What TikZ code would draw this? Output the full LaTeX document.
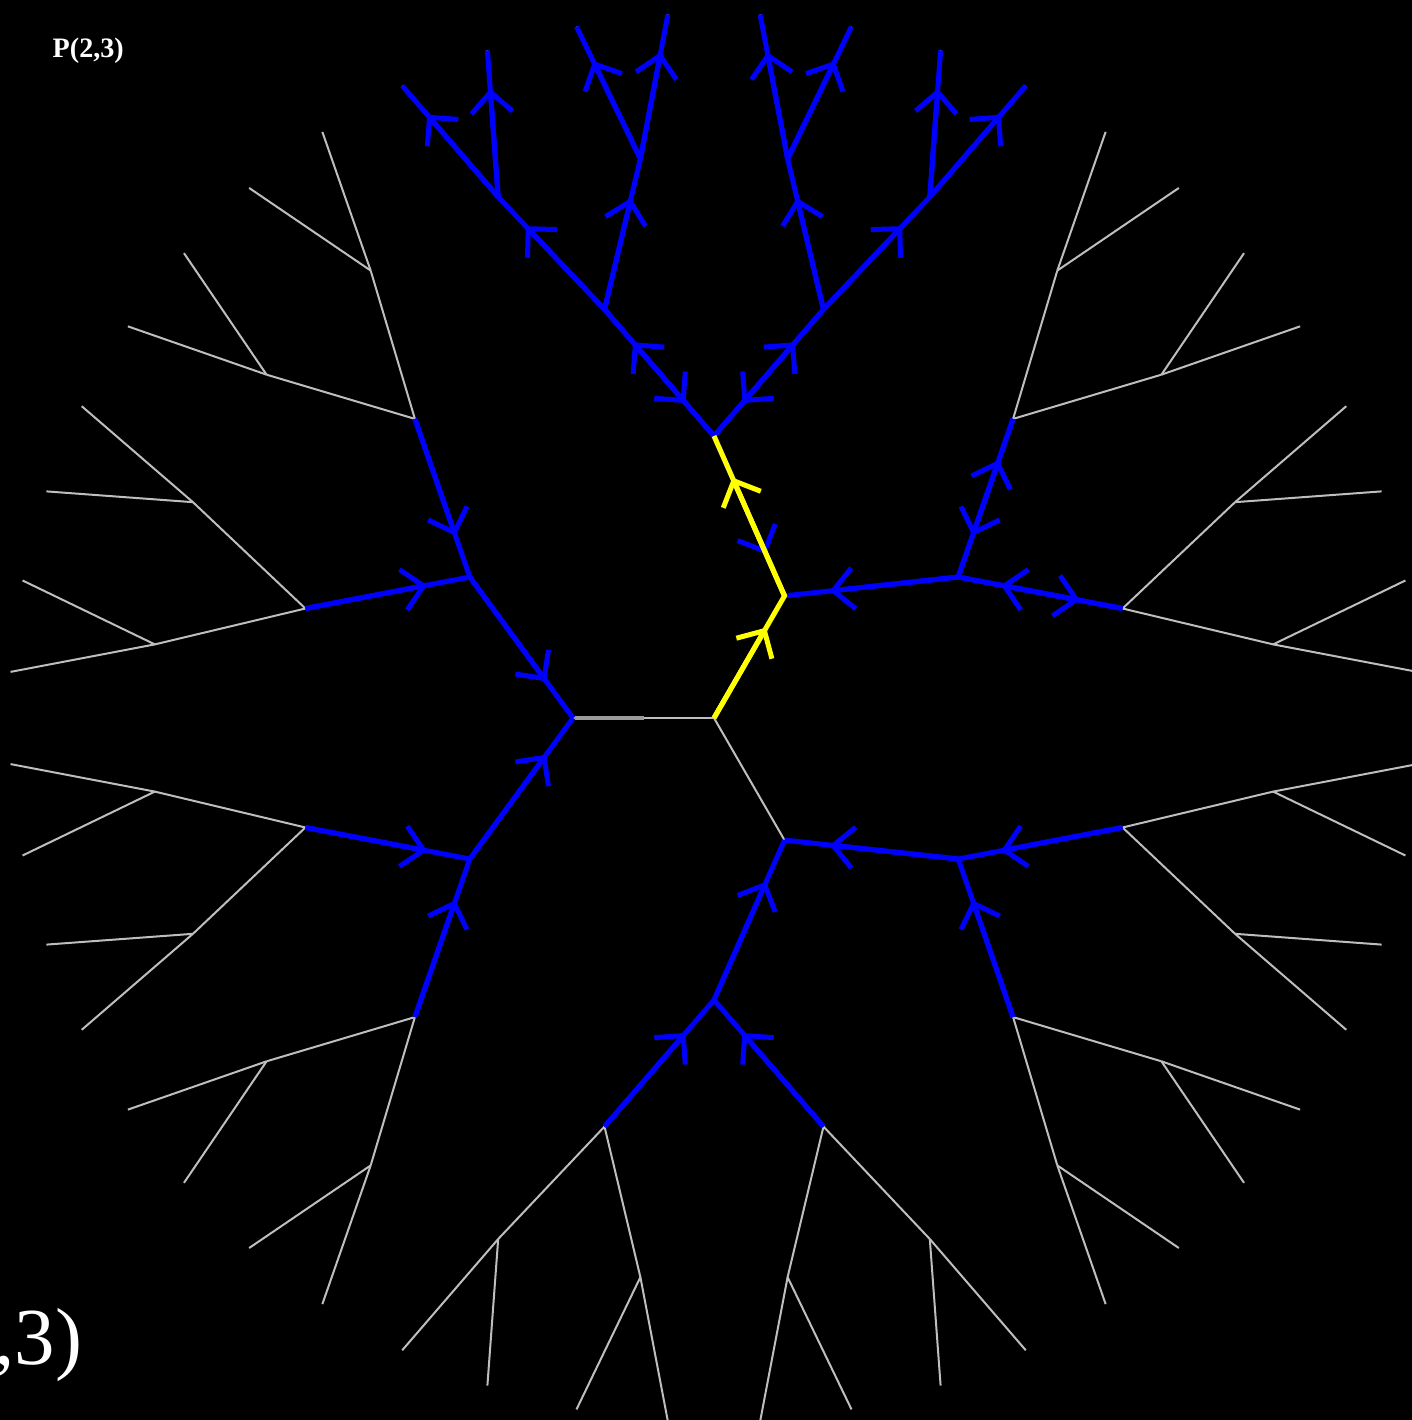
\documentclass[tikz,border=0pt]{standalone}
\usepackage{fontspec}
\newfontfamily\labelfont{Liberation Serif}
\usepackage{tikz}
\usetikzlibrary{arrows.meta,calc}
\definecolor{twig}{HTML}{BEBEBE}
\definecolor{stem}{HTML}{9A9A9A}
\definecolor{flow}{HTML}{0000FF}
\definecolor{walk}{HTML}{FFFF00}
% arrow from #2 pointing towards #3, drawn over the edge
\newcommand{\flowto}[3][flow]{\draw[arrowline,#1] (#2) -- ($(#2)!.74!(#3)$);}

\begin{document}
\begin{tikzpicture}[x=0.01cm,y=0.01cm,
  twigline/.style={twig,line width=0.02cm},
  stemline/.style={stem,line width=0.035cm},
  flowline/.style={flow,line width=0.05cm},
  walkline/.style={walk,line width=0.05cm},
  arrowline/.style={line width=0.05cm,-{Straight Barb[length=0.205cm,width=0.41cm]}}]
  \useasboundingbox (0,0) rectangle (1412,1420);
  \fill[black] (0,0) rectangle (1412,1420);
  \clip (0,0) rectangle (1412,1420);

  % tree, three branches round the root
  \coordinate (o) at (714,702);
  \foreach \br/\ang in {a/180,c/60,d/300}{
    \coordinate (\br) at ($(o)+(\ang:141)$);
    \draw[twigline] (o) -- (\br);
    \foreach \i/\s in {1/-1,2/1}{
      \pgfmathsetmacro\angb{\ang+30*\s}
      \coordinate (\br\i) at ($(o)+(\angb:282)$);
      \draw[twigline] (\br) -- (\br\i);
      \foreach \j/\u in {1/-1,2/1}{
        \pgfmathsetmacro\angc{\angb+15*\u}
        \coordinate (\br\i\j) at ($(o)+(\angc:423)$);
        \draw[twigline] (\br\i) -- (\br\i\j);
        \foreach \k/\v in {1/-1,2/1}{
          \pgfmathsetmacro\angd{\angc+7.5*\v}
          \coordinate (\br\i\j\k) at ($(o)+(\angd:564)$);
          \draw[twigline] (\br\i\j) -- (\br\i\j\k);
          \foreach \n/\w in {1/-1,2/1}{
            \pgfmathsetmacro\ange{\angd+3.75*\w}
            \coordinate (\br\i\j\k\n) at ($(o)+(\ange:705)$);
            \draw[twigline] (\br\i\j\k) -- (\br\i\j\k\n);
          }
        }
      }
    }
  }
  \draw[stemline] (a) -- ($(a)!.5!(o)$);

  % blue edges
  \foreach \u/\v in {a/a1,a/a2,a1/a11,a1/a12,a2/a21,a2/a22,
      d/d1,d/d2,d1/d11,d1/d12,d2/d21,d2/d22,
      c/c1,c1/c11,c1/c12,c/c2,c2/c21,c2/c22,
      c21/c211,c21/c212,c22/c221,c22/c222,
      c211/c2111,c211/c2112,c212/c2121,c212/c2122,
      c221/c2211,c221/c2212,c222/c2221,c222/c2222}
    \draw[flowline] (\u) -- (\v);
  % inward arrows
  \foreach \u/\v in {a1/a,a2/a,a11/a1,a12/a1,a21/a2,a22/a2,
      d1/d,d2/d,d11/d1,d12/d1,d21/d2,d22/d2,
      c1/c,c11/c1,c12/c1,c2/c,c21/c2,c22/c2}
    \flowto{\u}{\v};
  % outward arrows
  \foreach \u/\v in {c1/c11,c1/c12,c2/c21,c2/c22,
      c21/c211,c21/c212,c22/c221,c22/c222,
      c211/c2111,c211/c2112,c212/c2121,c212/c2122,
      c221/c2211,c221/c2212,c222/c2221,c222/c2222}
    \flowto{\u}{\v};

  % yellow walk
  \draw[walkline] (o) -- (c) -- (c2);
  \flowto[walk]{o}{c}
  \flowto[walk]{c}{c2}

  \node[anchor=base west,inner sep=0,text=white,font=\labelfont\bfseries\fontsize{8}{9}\selectfont] (title) at (52,1362) {P(2,3)};
  \node[anchor=base east,inner sep=0,text=white,font=\labelfont\fontsize{23}{27}\selectfont] (caption) at (83,55) {,3)};
\end{tikzpicture}
\end{document}
